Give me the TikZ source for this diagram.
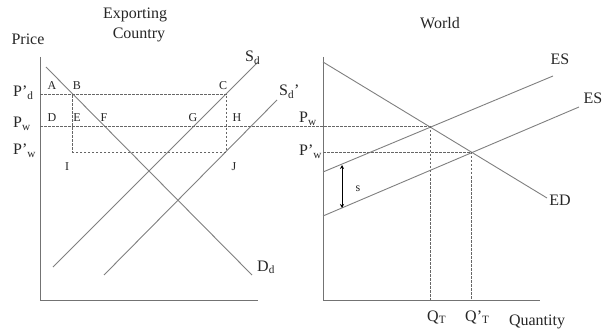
\documentclass[tikz,border=0pt]{standalone}
\usepackage{fontspec}
\setmainfont{Liberation Serif}
\usetikzlibrary{arrows.meta}
\begin{document}
\begin{tikzpicture}[x=1pt,y=-1pt,
  curve/.style={draw=black!50, line width=0.9pt},
  axis/.style={draw=black!55, line width=1pt},
  guide/.style={draw=black!60, dash pattern=on 2.5pt off 1.5pt, line width=0.7pt},
  lbl/.style={font=\fontsize{16}{18}\selectfont, inner sep=0pt, text=black!85},
  ptl/.style={font=\fontsize{12}{14}\selectfont, inner sep=0pt, text=black!85, anchor=base}]
\useasboundingbox (0,0) rectangle (607,331);
\fill[white] (0,0) rectangle (607,331);

% ---------- left panel ----------
\coordinate (lTop) at (40,57);
\coordinate (lO) at (40,300);
\coordinate (lX) at (258,300);
\draw[axis] (lTop) -- (lO) -- (lX);

\coordinate (dd1) at (46,67);   \coordinate (dd2) at (252,275);
\coordinate (sd1) at (53,267);  \coordinate (sd2) at (258,62);
\coordinate (sp1) at (104,275); \coordinate (sp2) at (277,100);
\draw[curve] (dd1) -- (dd2);
\draw[curve] (sd1) -- (sd2);
\draw[curve] (sp1) -- (sp2);

\coordinate (pdL) at (40,94);  \coordinate (pdR) at (226,94);
\coordinate (pwL) at (40,126); \coordinate (pwR) at (430,126);
\coordinate (pwpL) at (72,152); \coordinate (pwpR) at (226,152);
\coordinate (bTop) at (72,94);
\draw[guide] (pdL) -- (pdR) -- (pwpR) -- (pwpL) -- (bTop);
\draw[guide] (pwL) -- (pwR);

\node[lbl] (ex) at (135,15) {Exporting};
\node[lbl] (co) at (139,35) {Country};
\node[lbl] (price) at (28,39) {Price};

\node[lbl, anchor=base west] (lpd) at (13,97) {P'\textsubscript{d}};
\node[lbl, anchor=base west] (lpw) at (13,128) {P\textsubscript{w}};
\node[lbl, anchor=base west] (lpwp) at (13,155) {P'\textsubscript{w}};

\node[ptl] (A) at (52,90) {A};
\node[ptl] (B) at (77,90) {B};
\node[ptl] (C) at (223,90) {C};
\node[ptl] (D) at (52,122) {D};
\node[ptl] (E) at (77,122) {E};
\node[ptl] (F) at (104,122) {F};
\node[ptl] (G) at (193,122) {G};
\node[ptl] (H) at (237,122) {H};
\node[ptl] (I) at (67,171) {I};
\node[ptl] (J) at (234,171) {J};

\node[lbl, anchor=base west] (sdl) at (245,62) {S\textsubscript{d}};
\node[lbl, anchor=base west] (spl) at (279,96) {S\textsubscript{d}'};
\node[lbl, anchor=base west] (ddl) at (257,271) {D\textsubscript{d}};

% ---------- right panel ----------
\coordinate (rTop) at (323,57);
\coordinate (rO) at (323,300);
\coordinate (rX) at (540,300);
\draw[axis] (rTop) -- (rO) -- (rX);

\coordinate (ed1) at (323,62);  \coordinate (ed2) at (547,198);
\coordinate (es1a) at (323,172); \coordinate (es1b) at (553,76);
\coordinate (es2a) at (323,216); \coordinate (es2b) at (579,107);
\draw[curve] (ed1) -- (ed2);
\draw[curve] (es1a) -- (es1b);
\draw[curve] (es2a) -- (es2b);

\coordinate (rpwpL) at (323,152); \coordinate (rpwpR) at (471,152);
\coordinate (qt) at (430,300); \coordinate (qtp) at (471,300);
\draw[guide] (rpwpL) -- (rpwpR) -- (qtp);
\draw[guide] (pwR) -- (qt);

\coordinate (sTop) at (342,165); \coordinate (sBot) at (342,208);
\draw[black, line width=0.8pt, {Stealth[length=4pt,width=4pt]}-{Stealth[length=4pt,width=4pt]}] (sTop) -- (sBot);
\node[ptl] (s) at (358,191) {s};

\node[lbl] (world) at (440,23) {World};
\node[lbl, anchor=base west] (rpw) at (299,123) {P\textsubscript{w}};
\node[lbl, anchor=base west] (rpwp) at (299,156) {P'\textsubscript{w}};
\node[lbl] (es1l) at (560,59) {ES};
\node[lbl] (es2l) at (593,98) {ES};
\node[lbl] (edl) at (560,200) {ED};
\node[lbl, anchor=base west] (qtl) at (427,321) {Q\textsubscript{T}};
\node[lbl, anchor=base west] (qtpl) at (465,321) {Q'\textsubscript{T}};
\node[lbl] (qty) at (537,322) {Quantity};
\end{tikzpicture}
\end{document}
